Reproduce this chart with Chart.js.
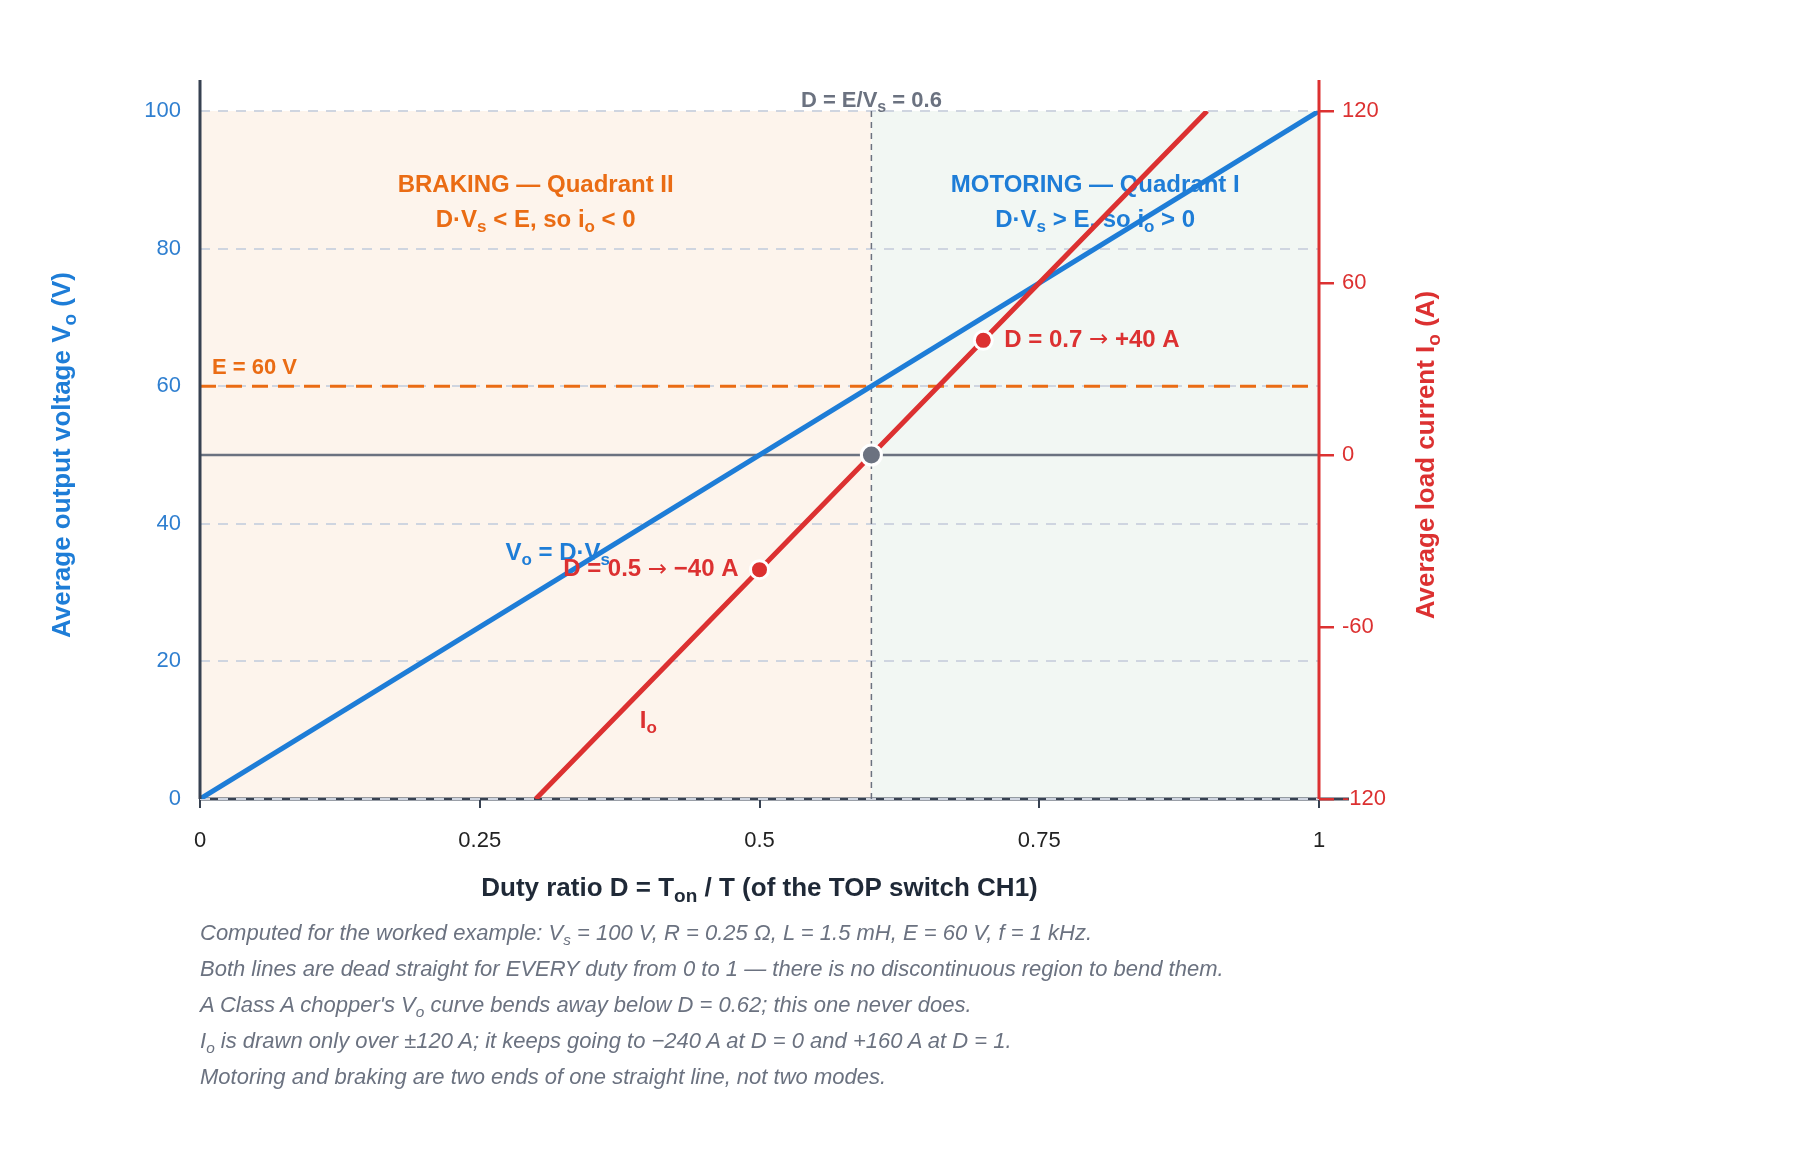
<!DOCTYPE html>
<html>
<head>
<meta charset="utf-8">
<script src="https://cdn.jsdelivr.net/npm/chart.js@4.4.1/dist/chart.umd.min.js"></script>
<style>
  html, body { margin: 0; padding: 0; background: #fff; }
  #wrap { position: relative; width: 1800px; height: 1170px; }
  #notes {
    position: absolute; left: 200px; top: 915px;
    font: italic 22px "Liberation Sans", Arial, sans-serif;
    color: #6b7280; line-height: 36px; white-space: nowrap;
  }
  #notes sub { font-size: 0.7em; line-height: 0; vertical-align: -0.3em; }
</style>
</head>
<body>
<div id="wrap">
  <canvas id="chopperChart" width="1800" height="1170"></canvas>
  <div id="notes">
    <div>Computed for the worked example: V<sub>s</sub> = 100 V, R = 0.25 Ω, L = 1.5 mH, E = 60 V, f = 1 kHz.</div>
    <div>Both lines are dead straight for EVERY duty from 0 to 1 — there is no discontinuous region to bend them.</div>
    <div>A Class A chopper's V<sub>o</sub> curve bends away below D = 0.62; this one never does.</div>
    <div>I<sub>o</sub> is drawn only over ±120 A; it keeps going to −240 A at D = 0 and +160 A at D = 1.</div>
    <div>Motoring and braking are two ends of one straight line, not two modes.</div>
  </div>
</div>
<script>
// duty ratio and output voltage (Vo = D*Vs)
const dutyV = [0, 1];
const voltsV = [0, 100];

// load current, only drawn inside +-120 A
const dutyI = [0.3, 0.5, 0.6, 0.7, 0.9];
const ampsI = [-120, -40, 0, 40, 120];

// worked points
const markD = [0.5, 0.7];
const markI = [-40, 40];

const emfV = 60;
const crossD = 0.6;

const dTicks = [0, 0.25, 0.5, 0.75, 1];
const vTicks = [0, 20, 40, 60, 80, 100];
const iTicks = [-120, -60, 0, 60, 120];

const FONT = '"Liberation Sans", Arial, sans-serif';
const ARROW_FONT = '"DejaVu Sans", sans-serif';
const BLUE = "#1e7dd7";
const RED = "#dc3131";
const ORANGE = "#ea6c14";
const GRAY = "#6b7280";
const DARK = "#374151";

Chart.defaults.font.family = FONT;

// text with subscripts: parts = [[text, isSub, arrowFont], ...]
function drawRich(ctx, parts, x, y, size, color, align, weight) {
  weight = weight || "bold";
  const main = `${weight} ${size}px ${FONT}`;
  const small = `${weight} ${Math.round(size * 0.72)}px ${FONT}`;
  const arrow = `normal ${Math.round(size * 0.95)}px ${ARROW_FONT}`;
  const fontOf = (p) => (p[2] ? arrow : p[1] ? small : main);
  let total = 0;
  const widths = parts.map((p) => {
    ctx.font = fontOf(p);
    const w = ctx.measureText(p[0]).width;
    total += w;
    return w;
  });
  let cx = x;
  if (align === "center") cx = x - total / 2;
  if (align === "right") cx = x - total;
  ctx.fillStyle = color;
  ctx.textAlign = "left";
  ctx.textBaseline = "middle";
  parts.forEach((p, i) => {
    ctx.font = fontOf(p);
    ctx.fillText(p[0], cx, p[1] ? y + size * 0.3 : y);
    cx += widths[i];
  });
}

const decor = {
  id: "decor",
  beforeDraw(chart) {
    const { ctx, chartArea: a, scales: { x, y } } = chart;
    const xs = x.getPixelForValue(0), xm = x.getPixelForValue(crossD), xe = x.getPixelForValue(1);
    const yt = y.getPixelForValue(100), yb = y.getPixelForValue(0);
    ctx.save();
    ctx.fillStyle = "#fdf4ec";
    ctx.fillRect(xs, yt, xm - xs, yb - yt);
    ctx.fillStyle = "#f2f7f3";
    ctx.fillRect(xm, yt, xe - xm, yb - yt);
    // bottom axis sits under the dashed grid line
    ctx.strokeStyle = DARK;
    ctx.lineWidth = 3;
    ctx.beginPath();
    ctx.moveTo(a.left, a.bottom);
    ctx.lineTo(a.right + 30, a.bottom);
    ctx.stroke();
    ctx.restore();
  },
  beforeDatasetsDraw(chart) {
    const { ctx, scales: { x, y } } = chart;
    ctx.save();
    const bx = x.getPixelForValue(crossD / 2);
    const mx = x.getPixelForValue((crossD + 1) / 2);
    const y1 = y.getPixelForValue(89.2), y2 = y.getPixelForValue(84.1);
    drawRich(ctx, [["BRAKING — Quadrant II"]], bx, y1, 24, ORANGE, "center");
    drawRich(ctx, [["D·V"], ["s", 1], [" < E, so i"], ["o", 1], [" < 0"]], bx, y2, 24, ORANGE, "center");
    drawRich(ctx, [["MOTORING — Quadrant I"]], mx, y1, 24, BLUE, "center");
    drawRich(ctx, [["D·V"], ["s", 1], [" > E, so i"], ["o", 1], [" > 0"]], mx, y2, 24, BLUE, "center");
    ctx.restore();
  },
  afterDatasetsDraw(chart) {
    const { ctx, chartArea: a, scales: { x, y, y1 } } = chart;
    ctx.save();
    drawRich(ctx, [["D = E/V"], ["s", 1], [" = 0.6"]], x.getPixelForValue(crossD), a.top - 10, 22, GRAY, "center");
    drawRich(ctx, [["E = 60 V"]], a.left + 12, y.getPixelForValue(emfV) - 18, 22, ORANGE, "left");
    drawRich(ctx, [["D = 0.7 "], ["→", 0, 1], [" +40 A"]], x.getPixelForValue(markD[1]) + 21, y1.getPixelForValue(markI[1]), 24, RED, "left");
    drawRich(ctx, [["V"], ["o", 1], [" = D·V"], ["s", 1]], x.getPixelForValue(0.273), y.getPixelForValue(35.7), 24, BLUE, "left");
    drawRich(ctx, [["D = 0.5 "], ["→", 0, 1], [" −40 A"]], x.getPixelForValue(markD[0]) - 21, y1.getPixelForValue(markI[0]), 24, RED, "right");
    drawRich(ctx, [["I"], ["o", 1]], x.getPixelForValue(0.393), y1.getPixelForValue(-93), 24, RED, "left");
    ctx.restore();
  },
  afterDraw(chart) {
    const { ctx, chartArea: a } = chart;
    ctx.save();
    ctx.lineWidth = 3;
    ctx.strokeStyle = DARK;
    ctx.beginPath();
    ctx.moveTo(a.left, a.top - 31);
    ctx.lineTo(a.left, a.bottom);
    ctx.stroke();
    ctx.strokeStyle = RED;
    ctx.beginPath();
    ctx.moveTo(a.right, a.top - 31);
    ctx.lineTo(a.right, a.bottom);
    ctx.stroke();

    const midY = (a.top + a.bottom) / 2;
    drawRich(ctx, [["Duty ratio D = T"], ["on", 1], [" / T (of the TOP switch CH1)"]],
      (a.left + a.right) / 2, 889, 26, "#1f2937", "center");

    ctx.translate(63, midY);
    ctx.rotate(-Math.PI / 2);
    drawRich(ctx, [["Average output voltage V"], ["o", 1], [" (V)"]], 0, 0, 26, BLUE, "center");
    ctx.rotate(Math.PI / 2);
    ctx.translate(1427 - 63, 0);
    ctx.rotate(-Math.PI / 2);
    drawRich(ctx, [["Average load current I"], ["o", 1], [" (A)"]], 0, 0, 26, RED, "center");
    ctx.restore();
  }
};

new Chart(document.getElementById("chopperChart"), {
  type: "scatter",
  data: {
    datasets: [
      {
        label: "D = E/Vs",
        data: [{ x: 0.6, y: 0 }],
        yAxisID: "y1",
        pointRadius: 10,
        pointBackgroundColor: GRAY,
        pointBorderColor: "#fff",
        pointBorderWidth: 3,
        order: 0,
      },
      {
        label: "worked points",
        data: markD.map((d, i) => ({ x: d, y: markI[i] })),
        yAxisID: "y1",
        pointRadius: 9,
        pointBackgroundColor: RED,
        pointBorderColor: "#fff",
        pointBorderWidth: 3,
        order: 1,
      },
      {
        label: "Io",
        data: dutyI.map((d, i) => ({ x: d, y: ampsI[i] })),
        yAxisID: "y1",
        showLine: true,
        borderColor: RED,
        borderWidth: 5,
        pointRadius: 0,
        order: 2,
      },
      {
        label: "Vo",
        data: dutyV.map((d, i) => ({ x: d, y: voltsV[i] })),
        yAxisID: "y",
        showLine: true,
        borderColor: BLUE,
        borderWidth: 5,
        pointRadius: 0,
        order: 3,
      },
      {
        label: "E",
        data: [{ x: 0, y: emfV }, { x: 1, y: emfV }],
        yAxisID: "y",
        showLine: true,
        borderColor: ORANGE,
        borderWidth: 3,
        borderDash: [16, 10],
        pointRadius: 0,
        order: 4,
      },
      {
        label: "zero current",
        data: [{ x: 0, y: 0 }, { x: 1, y: 0 }],
        yAxisID: "y1",
        showLine: true,
        borderColor: GRAY,
        borderWidth: 2.5,
        pointRadius: 0,
        order: 5,
      },
      {
        label: "D = 0.6",
        data: [{ x: crossD, y: 0 }, { x: crossD, y: 100 }],
        yAxisID: "y",
        showLine: true,
        borderColor: GRAY,
        borderWidth: 1.5,
        borderDash: [6, 5],
        pointRadius: 0,
        order: 6,
      },
    ],
  },
  options: {
    responsive: false,
    animation: false,
    layout: { padding: { top: 111, left: 0, right: 0, bottom: 0 } },
    plugins: { legend: { display: false }, tooltip: { enabled: false } },
    scales: {
      x: {
        type: "linear",
        min: 0,
        max: 1,
        afterBuildTicks: (s) => { s.ticks = dTicks.map((v) => ({ value: v })); },
        afterFit: (s) => { s.height = 371; },
        ticks: { color: "#222", font: { size: 22 }, padding: 20, callback: (v) => String(v) },
        grid: { drawOnChartArea: false, drawTicks: true, tickLength: 9, color: DARK, lineWidth: 2 },
        border: { display: false },
      },
      y: {
        position: "left",
        min: 0,
        max: 100,
        afterBuildTicks: (s) => { s.ticks = vTicks.map((v) => ({ value: v })); },
        afterFit: (s) => { s.width = 200; },
        ticks: { color: "#2f7fd0", font: { size: 22 }, padding: 19 },
        grid: { color: "#cfd5e0", lineWidth: 2, drawTicks: false },
        border: { display: false, dash: [10, 8] },
      },
      y1: {
        position: "right",
        min: -120,
        max: 120,
        afterBuildTicks: (s) => { s.ticks = iTicks.map((v) => ({ value: v })); },
        afterFit: (s) => { s.width = 481; },
        ticks: { color: RED, font: { size: 22 }, padding: 8 },
        grid: { drawOnChartArea: false, drawTicks: true, tickLength: 15, color: RED, lineWidth: 2.5 },
        border: { display: false },
      },
    },
  },
  plugins: [decor],
});
</script>
</body>
</html>
